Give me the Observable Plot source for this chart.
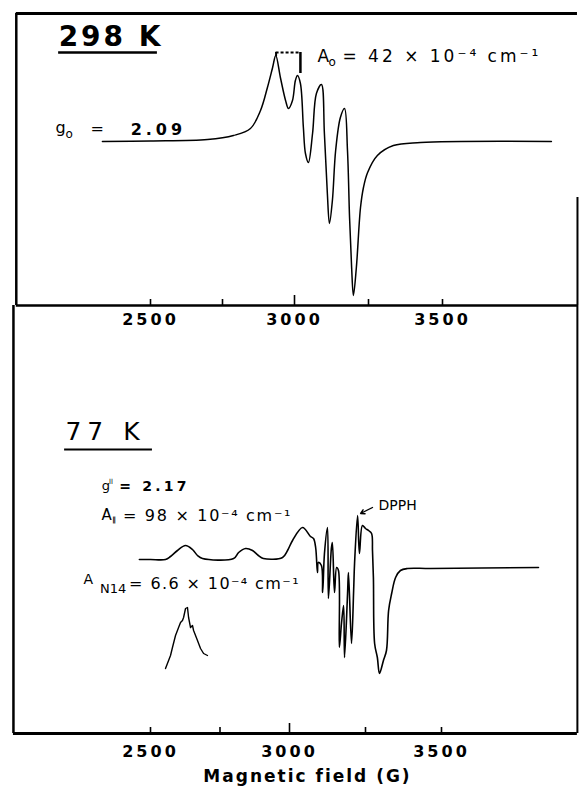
<!DOCTYPE html>
<html>
<head>
<meta charset="utf-8">
<script src="https://cdn.jsdelivr.net/npm/d3@7"></script>
<script src="https://cdn.jsdelivr.net/npm/@observablehq/plot@0.6"></script>
<style>
  html, body { margin: 0; padding: 0; background: #fff; }
  #wrap { position: relative; width: 579px; height: 793px; overflow: hidden; background: #fff; }
  #wrap svg { position: absolute; left: 0; }
</style>
</head>
<body>
<div id="wrap"></div>
<script>
// ---- Data (field in gauss, derivative signal in arbitrary units) ----
// 298 K spectrum
const roomField  = [2333, 2500, 2698, 2788, 2847, 2882, 2906, 2924, 2935, 2951, 2969, 2979, 2993, 3003, 3010, 3020, 3030, 3037, 3047, 3061, 3074, 3091, 3101, 3111, 3118, 3128, 3139, 3155, 3169, 3179, 3186, 3193, 3199, 3209, 3223, 3233, 3247, 3280, 3334, 3426, 3868];
const roomSignal = [0, 0.5, 2, 6, 13, 31, 54, 74, 86, 64, 41, 33, 41, 61, 66, 58, 14, -12, -21, 8, 48, 57, 8, -52, -82, -59, -9, 24, 33, -9, -76, -126, -154, -126, -66, -46, -31, -14, -4, -1, 0];
// 77 K spectrum
const lowField  = [2460, 2500, 2554, 2572, 2597, 2626, 2651, 2669, 2687, 2799, 2817, 2842, 2867, 2888, 2906, 2975, 2993, 3010, 3043, 3069, 3079, 3086, 3092, 3095, 3105, 3109, 3115, 3125, 3128, 3138, 3141, 3148, 3155, 3161, 3164, 3171, 3178, 3181, 3191, 3194, 3204, 3211, 3214, 3224, 3230, 3240, 3250, 3260, 3270, 3273, 3276, 3280, 3289, 3296, 3309, 3319, 3326, 3336, 3349, 3365, 3388, 3464, 3819];
const lowSignal = [1, 1, 1, 4, 10, 15, 11, 5, 2, 2, 8, 12, 10, 5, 2, 3, 10, 20, 33, 24, 22, 13, -12, -2, -5, -32, 7, 33, -38, 13, 18, -32, -7, -10, -87, -63, -45, -97, -33, -12, -83, -30, -3, 45, 7, 35, 32, 30, 27, 10, -17, -83, -97, -113, -100, -90, -50, -33, -17, -10, -8, -8, -7];
// 77 K expanded N14 superhyperfine inset
const insetField  = [2554, 2572, 2579, 2590, 2601, 2608, 2615, 2619, 2626, 2633, 2637, 2644, 2651, 2655, 2669, 2680, 2691, 2705];
const insetSignal = [-108, -95, -87, -75, -67, -62, -60, -57, -48, -47, -57, -67, -65, -70, -80, -88, -93, -95];
// Axis ticks
const tickValues = [2500, 2750, 3000, 3250, 3500];
const tickLabels = [2500, 3000, 3500];
const xTitle = "Magnetic field (G)";

const room  = roomField.map((x, i) => ({x, y: roomSignal[i]}));
const low   = lowField.map((x, i) => ({x, y: lowSignal[i]}));
const inset = insetField.map((x, i) => ({x, y: insetSignal[i]}));

const FONT = "DejaVu Sans";
const spacing = new Map();
function label(text, x, y, o = {}) {
  if (o.ls) spacing.set(text, o.ls);
  return Plot.text([{x, y, text}], {
    x: "x", y: "y", text: "text",
    textAnchor: o.anchor || "start",
    fontSize: o.size || 16,
    fontWeight: o.weight || "normal",
    fill: "black"
  });
}
function applySpacing(svg) {
  svg.querySelectorAll("text").forEach(t => {
    const s = spacing.get(t.textContent);
    if (s) t.style.letterSpacing = s + "px";
  });
}

// ---------------- 298 K panel ----------------
const tL = 2034, tR = 3956;
spacing.set("2500", 3); spacing.set("3000", 3); spacing.set("3500", 3);
const topPlot = Plot.plot({
  width: 579, height: 340,
  marginTop: 13, marginBottom: 35, marginLeft: 15, marginRight: 2,
  x: {type: "linear", domain: [2500, 3000, 3500], range: [150, 294, 442], axis: null},
  y: {type: "linear", domain: [-164, 128], range: [305, 13], axis: null},
  style: {fontFamily: FONT, background: "transparent", color: "black", overflow: "visible"},
  marks: [
    Plot.ruleY([128], {x1: () => tL, x2: () => tR, strokeWidth: 3}),
    Plot.ruleX([tL], {y1: () => 128, y2: () => -164, strokeWidth: 2.5}),
    Plot.ruleX([tR], {y1: () => -56, y2: () => -164, strokeWidth: 2}),
    Plot.ruleY([-164], {x1: () => tL, x2: () => tR, strokeWidth: 2.5}),
    Plot.ruleX(tickValues, {y1: () => -164, y2: d => d === 3000 ? -154 : -158, strokeWidth: 1.6}),
    Plot.text(tickLabels, {x: d => d, text: d => String(d), frameAnchor: "bottom", dy: 19, fontSize: 16, fontWeight: "bold", fill: "black"}),
    Plot.line(room, {x: "x", y: "y", curve: "catmull-rom", strokeWidth: 1.5, stroke: "black"}),
    // A0 bracket
    Plot.ruleY([89], {x1: () => 2936, x2: () => 3020, strokeWidth: 2, strokeDasharray: "3,2"}),
    Plot.ruleX([3020], {y1: () => 89, y2: () => 68, strokeWidth: 2.5}),
    Plot.ruleX([2936], {y1: () => 89, y2: () => 85, strokeWidth: 2}),
    // labels
    label("298 K", 2181, 104, {size: 28, weight: "bold", ls: 3}),
    Plot.ruleY([89], {x1: () => 2181, x2: () => 2524, strokeWidth: 2.5}),
    label("g", 2170, 13.5, {size: 16}),
    label("o", 2205, 7, {size: 12}),
    label("=", 2292, 13, {size: 16}),
    label("2.09", 2431, 12, {size: 16, weight: "bold", ls: 4}),
    label("A", 3078, 85, {size: 17}),
    label("o", 3115, 79.5, {size: 12}),
    label("= 42 × 10⁻⁴ cm⁻¹", 3162, 85, {size: 17, ls: 3})
  ]
});
topPlot.style.top = "0px";
applySpacing(topPlot);

// ---------------- 77 K panel ----------------
const bL = 2007, bR = 3947;
spacing.set(xTitle, 2);
const bottomPlot = Plot.plot({
  width: 579, height: 498,
  marginTop: 10, marginBottom: 60, marginLeft: 13, marginRight: 2,
  x: {type: "linear", domain: [2500, 3000, 3500], range: [150, 289, 441], axis: null},
  y: {type: "linear", domain: [-173, 255], range: [438, 10], axis: null},
  style: {fontFamily: FONT, background: "transparent", color: "black", overflow: "visible"},
  marks: [
    Plot.ruleX([bL], {y1: () => 255, y2: () => -173, strokeWidth: 2.5}),
    Plot.ruleX([bR], {y1: () => 255, y2: () => -173, strokeWidth: 2}),
    Plot.ruleY([-173], {x1: () => bL, x2: () => bR, strokeWidth: 3}),
    Plot.ruleX(tickValues, {y1: () => -173, y2: d => d === 3000 ? -163 : -167, strokeWidth: 1.6}),
    Plot.text(tickLabels, {x: d => d, text: d => String(d), frameAnchor: "bottom", dy: 23, fontSize: 16, fontWeight: "bold", fill: "black"}),
    Plot.text([xTitle], {frameAnchor: "bottom", dy: 48, dx: 12, text: d => d, fontSize: 17, fontWeight: "bold", fill: "black"}),
    Plot.line(low, {x: "x", y: "y", curve: "catmull-rom", strokeWidth: 1.6, stroke: "black"}),
    Plot.line(inset, {x: "x", y: "y", curve: "linear", strokeWidth: 1.4, stroke: "black"}),
    // labels
    label("77 K", 2194, 129, {size: 25, ls: 6}),
    Plot.ruleY([111], {x1: () => 2191, x2: () => 2507, strokeWidth: 2}),
    label("g", 2325, 75, {size: 13}),
    label("ll", 2351, 79, {size: 7}),
    label("= 2.17", 2388, 74, {size: 14, weight: "bold", ls: 3.2}),
    label("A", 2324, 45, {size: 15}),
    label("∥", 2362, 41, {size: 7, weight: "bold"}),
    label("= 98 × 10⁻⁴ cm⁻¹", 2401, 45, {size: 16, ls: 1.7}),
    label("A", 2259, -19, {size: 14}),
    label("N14", 2318, -28, {size: 13}),
    label("= 6.6 × 10⁻⁴ cm⁻¹", 2423, -23, {size: 16, ls: 1.4}),
    label("DPPH", 3293, 55, {size: 14}),
    Plot.arrow([{x1: 3273, y1: 53, x2: 3234, y2: 47}], {x1: "x1", y1: "y1", x2: "x2", y2: "y2", headLength: 6, strokeWidth: 1.4, stroke: "black"})
  ]
});
bottomPlot.style.top = "295px";
applySpacing(bottomPlot);

const wrap = document.getElementById("wrap");
wrap.appendChild(topPlot);
wrap.appendChild(bottomPlot);
</script>
</body>
</html>
